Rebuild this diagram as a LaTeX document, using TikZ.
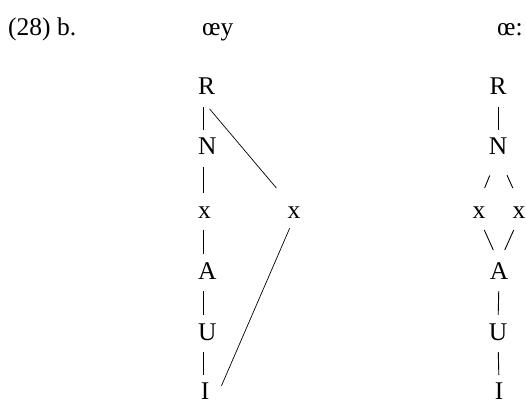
\documentclass[tikz,border=0pt]{standalone}
\usepackage{fontspec}
\setmainfont{Liberation Serif}
\usetikzlibrary{positioning}

\begin{document}
\begin{tikzpicture}[
  x=1pt, y=-1pt,
  lbl/.style={inner sep=0pt, anchor=base west, font=\fontsize{25.5}{30}\selectfont},
  seg/.style={
    inner sep=0pt, text height=16pt, text depth=0pt,
    font=\fontsize{25.5}{30}\selectfont
  },
  bar/.style={line width=0.9pt, shorten <=12pt, shorten >=9pt},
  upslash/.style={line width=0.9pt, shorten <=22pt, shorten >=15pt},
  loslash/.style={line width=0.9pt, shorten <=13pt, shorten >=14pt},
  assoc/.style={line width=0.7pt}
]
\useasboundingbox (0,0) rectangle (526,403);

% --- Header ---
\node[lbl] (num)   at (8,36)   {(28) b.};
\node[lbl] (diph)  at (202,36) {œy};
\node[lbl] (long)  at (497,36) {œ:};

% --- Left tree: diphthong ---
\node[seg, anchor=base west] (lR)  at (198,95)  {R};
\node[seg, anchor=base west] (lN)  at (198,155) {N};
\node[seg, anchor=base west] (lx)  at (198,218) {x};
\node[seg, anchor=base west] (lA)  at (198,279) {A};
\node[seg, anchor=base west] (lU)  at (198,340) {U};
\node[seg, anchor=base]      (lI)  at (205,399) {I};
\node[seg, anchor=base]      (lx2) at (294,218) {x};

% --- Right tree: long vowel ---
\node[seg, anchor=base] (rR)  at (498,95)  {R};
\node[seg, anchor=base] (rN)  at (498,155) {N};
\node[seg, anchor=base] (rxl) at (479,218) {x};
\node[seg, anchor=base] (rxr) at (519,218) {x};
\node[seg, anchor=base] (rA)  at (499,279) {A};
\node[seg, anchor=base] (rU)  at (498,340) {U};
\node[seg, anchor=base] (rI)  at (499,399) {I};

% Left tree links
\draw[bar] ([xshift=5pt]lR.south west) -- ([xshift=5pt]lN.north west);
\draw[bar] ([xshift=5pt]lN.south west) -- ([xshift=5pt]lx.north west);
\draw[bar] ([xshift=5pt]lx.south west) -- ([xshift=5pt]lA.north west);
\draw[bar] ([xshift=5pt]lA.south west) -- ([xshift=5pt]lU.north west);
\draw[bar, shorten >=8pt] ([xshift=5pt]lU.south west) -- ([xshift=5pt]lU.south west |- lI.north);
\draw[assoc, shorten <=18pt, shorten >=18pt] (lR.south west) -- ([xshift=-6pt]lx2.north);
\draw[assoc, shorten <=11pt] (lx2.south) -- ([shift={(12pt,-3pt)}]lI.north east);

% Right tree links
\draw[bar] (rR.south) -- (rN.north);
\draw[upslash] (rN.south) -- (rxl.north);
\draw[upslash] (rN.south) -- (rxr.north);
\draw[loslash] (rxl.south) -- (rA.north);
\draw[loslash] (rxr.south) -- (rA.north);
\draw[bar] (rA.south) -- (rU.north);
\draw[bar, shorten >=8pt] (rU.south) -- (rI.north);

\end{tikzpicture}
\end{document}
